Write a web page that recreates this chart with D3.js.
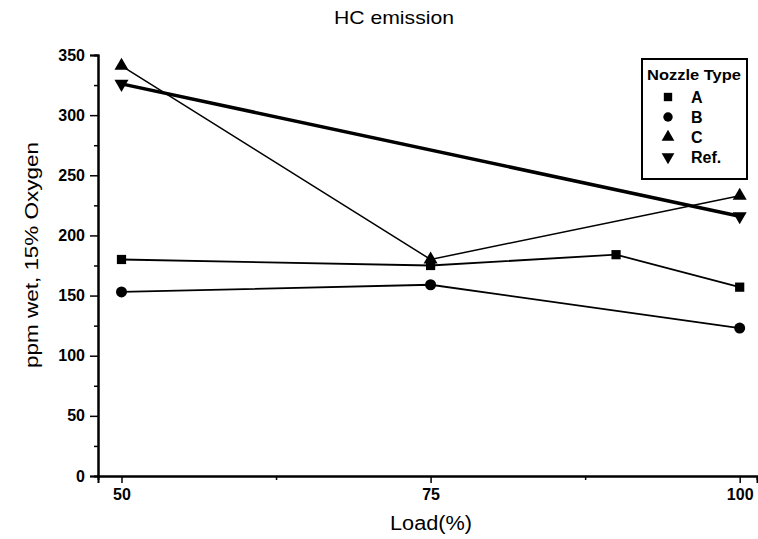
<!DOCTYPE html>
<html><head><meta charset="utf-8">
<script src="https://cdn.jsdelivr.net/npm/d3@7"></script>
<style>body{margin:0;background:#fff}svg{display:block}text{font-family:"Liberation Sans",Arial,sans-serif;fill:#000}</style>
</head><body>
<script>
const title = "HC emission";
const xLabel = "Load(%)";
const yLabel = "ppm wet, 15% Oxygen";
const xTicks = [50, 75, 100];
const yTicks = [0, 50, 100, 150, 200, 250, 300, 350];
const legendTitle = "Nozzle Type";
const seriesNames = ["A", "B", "C", "Ref."];
const loadA = [50, 75, 90, 100];
const valA = [180, 175, 184, 157];
const loadB = [50, 75, 100];
const valB = [153, 159, 123];
const loadC = [50, 75, 100];
const valC = [341, 180, 233];
const loadRef = [50, 100];
const valRef = [326, 216];

const W = 758, H = 539;
const svg = d3.select("body").append("svg").attr("width", W).attr("height", H);
const x = d3.scaleLinear().domain([48.1, 101.4]).range([98, 757]);
const y = d3.scaleLinear().domain([0, 350]).range([476, 55]);

// axes
svg.append("g").attr("transform", "translate(0,476)")
  .call(d3.axisBottom(x).tickValues(xTicks).tickSize(7).tickPadding(6).tickFormat(d3.format("d")));
svg.append("g").attr("transform", "translate(0,476)")
  .call(d3.axisBottom(x).tickValues([62.5, 87.5]).tickSize(4).tickFormat(""));
svg.append("g").attr("transform", "translate(98,0)")
  .call(d3.axisLeft(y).tickValues(yTicks).tickSize(8).tickPadding(5).tickFormat(d3.format("d")));
svg.append("g").attr("transform", "translate(98,0)")
  .call(d3.axisLeft(y).tickValues(d3.range(25, 350, 50)).tickSize(4).tickFormat(""));
svg.selectAll(".domain").attr("stroke", "#000").attr("stroke-width", 2);
svg.selectAll(".tick line").attr("stroke", "#000").attr("stroke-width", 1.5);
svg.selectAll(".tick text").style("font-size", "16px").style("font-weight", "bold");

// texts
svg.append("text").attr("x", 394).attr("y", 24).attr("text-anchor", "middle").style("font-size", "19px")
  .attr("textLength", 120).attr("lengthAdjust", "spacingAndGlyphs").text(title);
svg.append("text").attr("x", 431).attr("y", 530).attr("text-anchor", "middle").style("font-size", "20px")
  .attr("textLength", 82).attr("lengthAdjust", "spacingAndGlyphs").text(xLabel);
svg.append("text").attr("transform", "translate(38,255) rotate(-90)").attr("text-anchor", "middle").style("font-size", "19px")
  .attr("textLength", 226).attr("lengthAdjust", "spacingAndGlyphs").text(yLabel);

// series
const series = [
  {name: seriesNames[0], xs: loadA, ys: valA, sym: d3.symbolSquare, size: 85, w: 1.8},
  {name: seriesNames[1], xs: loadB, ys: valB, sym: d3.symbolCircle, size: 95, w: 1.8},
  {name: seriesNames[2], xs: loadC, ys: valC, sym: d3.symbolTriangle, size: 85, w: 1.5},
  {name: seriesNames[3], xs: loadRef, ys: valRef, sym: d3.symbolTriangle, size: 85, w: 3.5, flip: true}
];
const line = d3.line().x(d => x(d[0])).y(d => y(d[1]));
series.forEach(s => {
  const pts = s.xs.map((v, i) => [v, s.ys[i]]);
  svg.append("path").attr("d", line(pts)).attr("fill", "none").attr("stroke", "#000").attr("stroke-width", s.w);
  svg.selectAll(null).data(pts).enter().append("path")
    .attr("d", d3.symbol().type(s.sym).size(s.size))
    .attr("transform", d => `translate(${x(d[0])},${y(d[1])})` + (s.flip ? " rotate(180)" : ""))
    .attr("fill", "#000");
});

// legend
const lg = svg.append("g");
lg.append("rect").attr("x", 642).attr("y", 59).attr("width", 105).attr("height", 120)
  .attr("fill", "#fff").attr("stroke", "#000").attr("stroke-width", 2);
lg.append("text").attr("x", 694).attr("y", 80).attr("text-anchor", "middle").style("font-size", "14px").style("font-weight", "bold")
  .attr("textLength", 94).attr("lengthAdjust", "spacingAndGlyphs").text(legendTitle);
series.forEach((s, i) => {
  const yy = 97 + i * 20;
  lg.append("path").attr("d", d3.symbol().type(s.sym).size(70))
    .attr("transform", `translate(668,${yy})` + (s.flip ? " rotate(180)" : "")).attr("fill", "#000");
  lg.append("text").attr("x", 691).attr("y", yy + 6).style("font-size", "16px").style("font-weight", "bold").text(s.name);
});
</script>
</body></html>
